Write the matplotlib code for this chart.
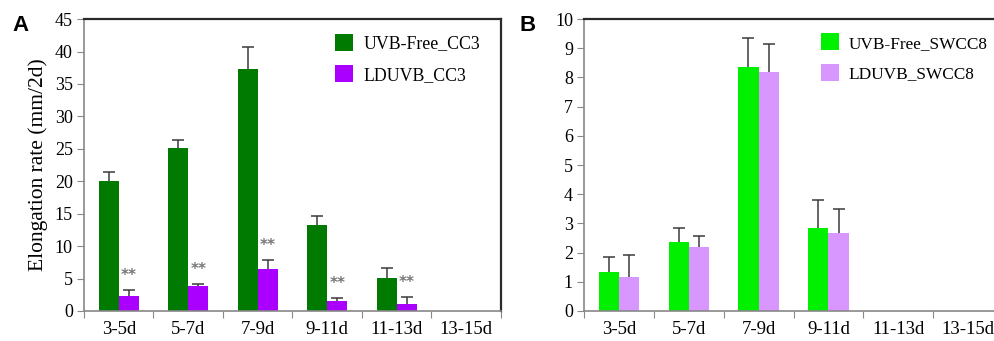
import numpy as np
import matplotlib
matplotlib.use('Agg')
import matplotlib.pyplot as plt

# data
categories = ['3-5d', '5-7d', '7-9d', '9-11d', '11-13d', '13-15d']

cc3_free = [20.0, 25.1, 37.3, 13.3, 5.1, np.nan]
cc3_free_err = [1.5, 1.3, 3.4, 1.3, 1.5, np.nan]
cc3_ld = [2.3, 3.8, 6.5, 1.6, 1.1, np.nan]
cc3_ld_err = [0.9, 0.4, 1.3, 0.4, 1.0, np.nan]
cc3_stars = ['**', '**', '**', '**', '**', '']

sw_free = [1.35, 2.35, 8.35, 2.85, np.nan, np.nan]
sw_free_err = [0.5, 0.5, 1.0, 0.95, np.nan, np.nan]
sw_ld = [1.18, 2.18, 8.18, 2.68, np.nan, np.nan]
sw_ld_err = [0.74, 0.4, 0.97, 0.8, np.nan, np.nan]

plt.rcParams['font.family'] = ['Liberation Serif', 'DejaVu Serif']

fig = plt.figure(figsize=(9.95, 3.41), dpi=100)
axA = fig.add_axes([0.0844, 0.088, 0.4191, 0.856])
# panel B runs a little past the right edge of the image, as in the original
axB = fig.add_axes([0.587, 0.088, 0.421, 0.856])

x = np.arange(len(categories))
w = 0.29


def draw_panel(ax, v1, e1, v2, e2, c1, c2, lab1, lab2, ymax, ystep, legx, legfs):
    ax.bar(x - w / 2, v1, w, color=c1, label=lab1, zorder=2)
    ax.bar(x + w / 2, v2, w, color=c2, label=lab2, zorder=2)
    for xs, v, e in [(x - w / 2, v1, e1), (x + w / 2, v2, e2)]:
        v = np.array(v, dtype=float)
        e = np.array(e, dtype=float)
        ax.vlines(xs, v, v + e, color='#3a3a3a', lw=1.1, zorder=3)
        ax.plot(xs, v + e, ls='none', marker='_', ms=8, mew=1.1,
                color='#3a3a3a', zorder=3)
    ax.set_xlim(-0.5, len(categories) - 0.5)
    ax.set_ylim(0, ymax)
    ax.set_yticks(np.arange(0, ymax + 0.01, ystep))
    ax.set_xticks(np.arange(-0.5, len(categories)), minor=False)
    ax.set_xticklabels([])
    ax.set_xticks(x, minor=True)
    ax.set_xticklabels(categories, minor=True)
    ax.tick_params(axis='x', which='major', length=5, color='#888888')
    ax.tick_params(axis='x', which='minor', length=0, pad=7, labelsize=13.5)
    ax.tick_params(axis='y', length=5, color='#888888', labelsize=13, pad=3)
    for s in ['left', 'bottom']:
        ax.spines[s].set_color('#888888')
        ax.spines[s].set_linewidth(1.2)
    for s in ['top', 'right']:
        ax.spines[s].set_color('#2a2a2a')
        ax.spines[s].set_linewidth(1.6)
    ax.legend(loc='upper left', bbox_to_anchor=(legx, 0.975), frameon=False,
              fontsize=legfs, handlelength=1.0, handleheight=1.15,
              handletextpad=0.6, labelspacing=0.7, borderaxespad=0)


draw_panel(axA, cc3_free, cc3_free_err, cc3_ld, cc3_ld_err,
           '#007a00', '#aa00ff', 'UVB-Free_CC3', 'LDUVB_CC3', 45, 5, 0.585, 12.8)
draw_panel(axB, sw_free, sw_free_err, sw_ld, sw_ld_err,
           '#00f000', '#d896ff', 'UVB-Free_SWCC8', 'LDUVB_SWCC8', 10, 1, 0.55, 12.4)

# significance marks
for i, s in enumerate(cc3_stars):
    if s:
        axA.annotate(s, (x[i] + w / 2, cc3_ld[i] + cc3_ld_err[i]),
                     xytext=(0, 5), textcoords='offset points',
                     ha='center', va='bottom', fontsize=11,
                     color='#777777', family='DejaVu Sans', fontweight='bold')

axA.set_ylabel('Elongation rate (mm/2d)', fontsize=15.5, labelpad=5)

fig.text(0.012, 0.955, 'A', fontsize=16, fontweight='bold',
         family='Liberation Sans', va='top')
fig.text(0.522, 0.955, 'B', fontsize=16, fontweight='bold',
         family='Liberation Sans', va='top')

fig.savefig('out.png', dpi=100)
